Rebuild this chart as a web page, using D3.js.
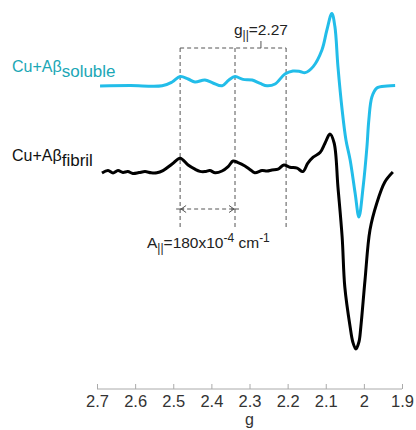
<!DOCTYPE html>
<html>
<head>
<meta charset="utf-8">
<script src="https://cdn.jsdelivr.net/npm/d3@7"></script>
<style>
  body { margin: 0; background: #fff; }
  text { font-family: "Liberation Sans", Arial, sans-serif; }
</style>
</head>
<body>
<div id="chart"></div>
<script>
// g values (x) and derivative intensity (a.u.)
const solubleG = [2.692, 2.613, 2.529, 2.503, 2.482, 2.461, 2.443, 2.417, 2.396, 2.372, 2.354, 2.338, 2.317, 2.293,
    2.272, 2.254, 2.233, 2.207, 2.186, 2.168, 2.154, 2.133, 2.110, 2.097, 2.084, 2.076, 2.068, 2.057, 2.047, 2.036,
    2.023, 2.013, 2.002, 1.992, 1.987, 1.979, 1.966, 1.939, 1.918];
const solubleI = [-0.05, -0.03, -0.04, 0.15, 0.42, 0.3, 0.15, 0.25, 0.1, -0.04, 0.25, 0.42, 0.28, 0.25,
    0.08, -0.04, 0.05, 0.55, 0.7, 0.68, 0.62, 0.92, 1.75, 2.75, 3.58, 2.92, 0.92, -1.25, -2.75, -3.75,
    -5.4, -6.6, -5.1, -3.1, -1.75, -0.6, -0.15, -0.05, -0.02];
const solubleOffset = 4.35;

const fibrilG = [2.687, 2.671, 2.658, 2.645, 2.632, 2.619, 2.606, 2.590, 2.574, 2.558, 2.543, 2.527, 2.503, 2.482,
    2.461, 2.443, 2.430, 2.417, 2.404, 2.390, 2.372, 2.356, 2.343, 2.330, 2.312, 2.299, 2.286, 2.267, 2.254, 2.241,
    2.225, 2.210, 2.194, 2.175, 2.160, 2.147, 2.133, 2.115, 2.102, 2.089, 2.078, 2.068, 2.057, 2.050, 2.036, 2.029,
    2.021, 2.013, 2.008, 1.997, 1.984, 1.966, 1.945, 1.924];
const fibrilI = [-0.05, 0.07, -0.05, 0.07, -0.02, 0.02, -0.07, -0.03, 0.02, -0.04, -0.04, 0.07, 0.4, 0.69,
    0.35, 0.14, 0.03, 0.02, 0.07, -0.04, 0.05, 0.27, 0.55, 0.47, 0.3, 0.13, -0.04, 0.07, 0.05, 0.1,
    0.14, 0.35, 0.24, 0.19, 0.02, 0.44, 0.74, 0.97, 1.44, 1.9, 1.45, -0.75, -3.25, -5.75, -7.75, -8.5,
    -8.85, -8.5, -7.75, -5.4, -2.9, -1.55, -0.5, 0];

const xTicks = [2.7, 2.6, 2.5, 2.4, 2.3, 2.2, 2.1, 2.0, 1.9];
const markerG = [2.482, 2.338, 2.204];
const gPar = 2.27;

const width = 416, height = 430;
const svg = d3.select("#chart").append("svg")
    .attr("width", width)
    .attr("height", height);

const xScale = d3.scaleLinear().domain([2.7, 1.9]).range([97, 402]);
const yScale = d3.scaleLinear().domain([-10, 8.6]).range([372, 0]);
const axisY = 389;

// x axis (ticks point inward)
const axis = svg.append("g")
    .attr("transform", `translate(0,${axisY})`)
    .call(d3.axisTop(xScale).tickValues(xTicks).tickSize(5).tickFormat(d3.format("")));
axis.select(".domain").attr("stroke", "#aaa").attr("d", `M${xScale(2.7)},0H${xScale(1.9)}`);
axis.selectAll(".tick line").attr("stroke", "#aaa");
axis.selectAll(".tick text")
    .attr("y", 18)
    .attr("dy", 0)
    .attr("fill", "#333")
    .attr("font-size", 16.5);

svg.append("text")
    .attr("x", xScale(2.3))
    .attr("y", 425)
    .attr("text-anchor", "middle")
    .attr("font-size", 16)
    .attr("fill", "#333")
    .text("g");

// dashed guides
const dash = "4,3";
const guides = svg.append("g").attr("stroke", "#555").attr("stroke-width", 1).attr("stroke-dasharray", dash).attr("fill", "none");
guides.selectAll("line.vguide")
    .data(markerG)
    .join("line")
    .attr("class", "vguide")
    .attr("x1", (d) => xScale(d)).attr("x2", (d) => xScale(d))
    .attr("y1", yScale(6.2)).attr("y2", yScale(-2.8));
guides.append("line")
    .attr("x1", xScale(markerG[0])).attr("x2", xScale(markerG[2]))
    .attr("y1", yScale(6.2)).attr("y2", yScale(6.2));
guides.append("line")
    .attr("x1", xScale(markerG[0])).attr("x2", xScale(markerG[1]))
    .attr("y1", yScale(-1.85)).attr("y2", yScale(-1.85));

// g|| tick
svg.append("line")
    .attr("x1", xScale(gPar)).attr("x2", xScale(gPar))
    .attr("y1", yScale(6.2)).attr("y2", yScale(6.55))
    .attr("stroke", "#555");

// arrow heads for A||
const ay = yScale(-1.85);
const heads = [[xScale(markerG[0]), 1], [xScale(markerG[1]), -1]];
svg.selectAll("path.head")
    .data(heads)
    .join("path")
    .attr("class", "head")
    .attr("d", (d) => `M${d[0] + d[1] * 6},${ay - 3.5}L${d[0] + d[1] * 1},${ay}L${d[0] + d[1] * 6},${ay + 3.5}`)
    .attr("fill", "none")
    .attr("stroke", "#555");
svg.selectAll("line.cross")
    .data(heads)
    .join("line")
    .attr("class", "cross")
    .attr("x1", (d) => d[0] - 4).attr("x2", (d) => d[0] + 4)
    .attr("y1", ay).attr("y2", ay)
    .attr("stroke", "#555");

// spectra
const line = d3.line()
    .x((d) => xScale(d[0]))
    .y((d) => yScale(d[1]))
    .curve(d3.curveCatmullRom.alpha(0.5));

svg.append("path")
    .datum(solubleG.map((g, i) => [g, solubleI[i] + solubleOffset]))
    .attr("d", line)
    .attr("fill", "none")
    .attr("stroke", "#22bde9")
    .attr("stroke-width", 3)
    .attr("stroke-linejoin", "round");

svg.append("path")
    .datum(fibrilG.map((g, i) => [g, fibrilI[i]]))
    .attr("d", line)
    .attr("fill", "none")
    .attr("stroke", "#000")
    .attr("stroke-width", 3)
    .attr("stroke-linejoin", "round");

// labels
const lab1 = svg.append("text").attr("x", 12).attr("y", 72).attr("font-size", 16).attr("fill", "#1ba7b6");
lab1.append("tspan").text("Cu+Aβ");
lab1.append("tspan").attr("dy", 5).attr("font-size", 17).text("soluble");

const lab2 = svg.append("text").attr("x", 12).attr("y", 161).attr("font-size", 16).attr("fill", "#111");
lab2.append("tspan").text("Cu+Aβ");
lab2.append("tspan").attr("dy", 5).attr("font-size", 17).text("fibril");

const gl = svg.append("text").attr("x", xScale(gPar)).attr("y", 35).attr("text-anchor", "middle")
    .attr("font-size", 15.5).attr("fill", "#222");
gl.append("tspan").text("g");
gl.append("tspan").attr("dy", 4).attr("font-size", 12).text("||");
gl.append("tspan").attr("dy", -4).text("=2.27");

const al = svg.append("text").attr("x", 147).attr("y", 248).attr("font-size", 15.5).attr("fill", "#222");
al.append("tspan").text("A");
al.append("tspan").attr("dy", 4).attr("font-size", 12).text("||");
al.append("tspan").attr("dy", -4).text("=180x10");
al.append("tspan").attr("dy", -6).attr("font-size", 12).text("-4");
al.append("tspan").attr("dy", 6).text(" cm");
al.append("tspan").attr("dy", -6).attr("font-size", 12).text("-1");
</script>
</body>
</html>
